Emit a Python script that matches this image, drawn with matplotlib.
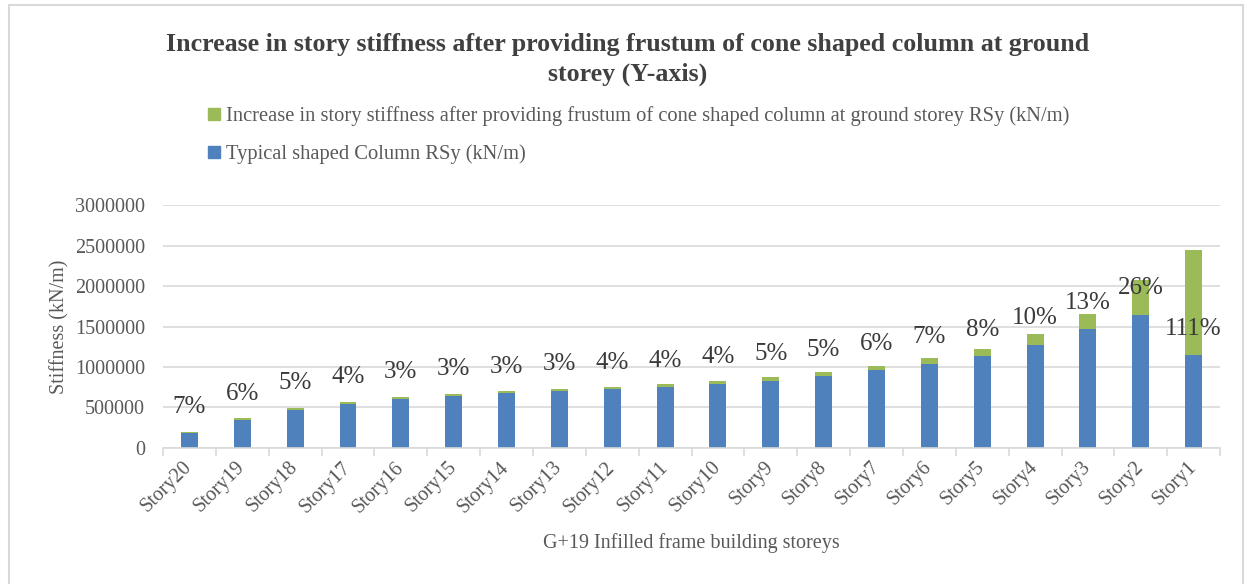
import matplotlib.pyplot as plt
import matplotlib.patches as mpatches
import numpy as np

plt.rcParams['font.family'] = ['Liberation Serif', 'DejaVu Serif']

# Data
storeys = ['Story20', 'Story19', 'Story18', 'Story17', 'Story16', 'Story15', 'Story14',
           'Story13', 'Story12', 'Story11', 'Story10', 'Story9', 'Story8', 'Story7',
           'Story6', 'Story5', 'Story4', 'Story3', 'Story2', 'Story1']
typical_rsy = [179000, 346000, 471000, 546000, 608000, 646000, 679000,
               708000, 729000, 754000, 792000, 833000, 888000, 958000,
               1042000, 1131000, 1275000, 1467000, 1647000, 1143000]
increase_rsy = [12500, 20800, 23500, 21800, 18200, 19400, 20400,
                21200, 29200, 30200, 31700, 41700, 44400, 57500,
                72900, 90500, 127500, 190700, 428200, 1300000]
pct_labels = ['7%', '6%', '5%', '4%', '3%', '3%', '3%', '3%', '4%', '4%',
              '4%', '5%', '5%', '6%', '7%', '8%', '10%', '13%', '26%', '111%']

blue = '#4F81BD'
green = '#9BBB59'
grid_c = '#D9D9D9'
text_c = '#595959'

fig = plt.figure(figsize=(12.47, 5.84), dpi=100)
ax = fig.add_axes([0.1307, 0.2329, 0.8477, 0.416])

x = np.arange(len(storeys))
w = 0.32
ax.bar(x, typical_rsy, width=w, color=blue, zorder=2)
ax.bar(x, increase_rsy, width=w, bottom=typical_rsy, color=green, zorder=2)

# percentage labels sit above the typical column bar
for xi, yi, lab in zip(x, typical_rsy, pct_labels):
    ax.annotate(lab, (xi, yi), xytext=(0, 19), textcoords='offset points',
                ha='center', va='center', fontsize=18, color='#3A3A3A', zorder=5)

ax.set_xlim(-0.5, len(storeys) - 0.5)
ax.set_ylim(0, 3000000)
ax.set_yticks(np.arange(0, 3000001, 500000))
ax.yaxis.set_major_formatter(plt.FuncFormatter(lambda v, p: f'{int(v)}'))
ax.grid(axis='y', color=grid_c, linewidth=1.2, zorder=0)
ax.set_axisbelow(True)
for s in ['top', 'right', 'left']:
    ax.spines[s].set_visible(False)
ax.spines['bottom'].set_color(grid_c)
ax.spines['bottom'].set_linewidth(1.2)

ax.tick_params(axis='y', length=0, pad=13, labelsize=14.5, labelcolor=text_c)
ax.set_xticks(x)
ax.set_xticklabels(storeys, rotation=45, ha='right', va='center',
                   rotation_mode='anchor', fontsize=14.5, color=text_c)
ax.tick_params(axis='x', which='major', length=0, pad=12)
ax.set_xticks(np.arange(-0.5, len(storeys)), minor=True)
ax.tick_params(axis='x', which='minor', length=6, color=grid_c, width=1.2)

ax.set_ylabel('Stiffness (kN/m)', fontsize=14.5, color=text_c, labelpad=4)
ax.set_xlabel('G+19 Infilled frame building storeys', fontsize=14.5,
              color=text_c, labelpad=12)

fig.text(0.503, 0.898,
         'Increase in story stiffness after providing frustum of cone shaped column at ground\nstorey (Y-axis)',
         ha='center', va='center', fontsize=18.7, fontweight='bold',
         color='#404040', linespacing=1.4)

handles = [mpatches.Patch(color=green), mpatches.Patch(color=blue)]
labels = ['Increase in story stiffness after providing frustum of cone shaped column at ground storey RSy (kN/m)',
          'Typical shaped Column RSy (kN/m)']
leg = fig.legend(handles, labels, loc='upper left', bbox_to_anchor=(0.167, 0.818),
                 frameon=False, fontsize=14.8, handlelength=0.55, handleheight=0.55,
                 handletextpad=0.3, labelspacing=0.9, borderpad=0, borderaxespad=0)
for t in leg.get_texts():
    t.set_color(text_c)

# outer chart border
fig.patches.append(mpatches.Rectangle((9 / 1247, -0.02), (1243 - 9) / 1247, 1 - 5 / 584 + 0.02,
                                      transform=fig.transFigure, fill=False,
                                      edgecolor=grid_c, linewidth=1.5))

fig.savefig('out.png', dpi=100)
